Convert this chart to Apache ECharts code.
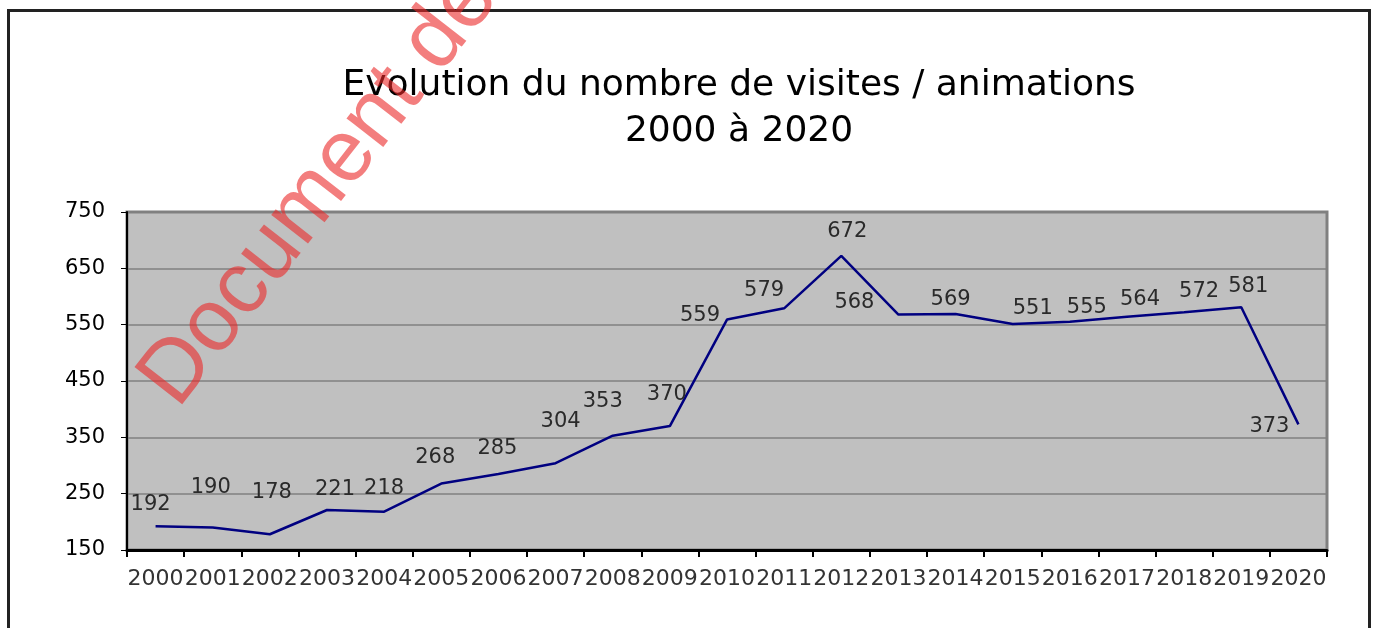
<!DOCTYPE html>
<html>
<head>
<meta charset="utf-8">
<script src="https://cdn.jsdelivr.net/npm/echarts@6/dist/echarts.min.js"></script>
<style>
  html, body { margin: 0; padding: 0; background: #fff; }
  #frame { position: absolute; left: 7px; top: 9px; width: 1358px; height: 700px; border: 3px solid #222; }
  #main { position: absolute; left: 0; top: 0; width: 1375px; height: 628px; }
</style>
</head>
<body>
<div id="frame"></div>
<div id="main"></div>
<script>
// données
var annees = ['2000','2001','2002','2003','2004','2005','2006','2007','2008','2009','2010',
              '2011','2012','2013','2014','2015','2016','2017','2018','2019','2020'];
var visites = [192, 190, 178, 221, 218, 268, 285, 304, 353, 370, 559,
               579, 672, 568, 569, 551, 555, 564, 572, 581, 373];
var titre = 'Evolution du nombre de visites / animations\n2000 à 2020';

var police = 'DejaVu Sans';

// décalage des étiquettes par rapport au point (comme sur l'original)
var decalages = [[-5,-22],[-2,-40],[2,-42],[8,-20],[0,-23],[-6,-26],[-1,-25],[5,-42],[-10,-34],[-3,-32],[-27,-4],
                 [-20,-18],[6,-24],[-44,-12],[-5,-14],[20,-16],[17,-14],[13,-17],[15,-21],[7,-21],[-29,2]];

var myChart = echarts.init(document.getElementById('main'));

option = {
    animation: false,
    title: {
        text: titre,
        left: 734,
        textAlign: 'center',
        top: 58,
        textStyle: { fontFamily: police, fontSize: 36, fontWeight: 'normal', color: '#000', lineHeight: 46 }
    },
    grid: { left: 127, right: 48, top: 212, bottom: 78, show: true, backgroundColor: '#c0c0c0', borderColor: '#808080', borderWidth: 3 },
    xAxis: {
        type: 'category',
        data: annees,
        axisLine: { lineStyle: { color: '#000', width: 3 } },
        axisTick: { show: true, length: 7, lineStyle: { color: '#000', width: 2 } },
        axisLabel: { interval: 0, color: '#333', fontFamily: police, fontSize: 22, margin: 18 }
    },
    yAxis: {
        type: 'value',
        min: 150,
        max: 750,
        interval: 100,
        axisLine: { show: true, lineStyle: { color: '#000', width: 2 } },
        axisTick: { show: true, length: 6, lineStyle: { color: '#000' } },
        splitLine: { lineStyle: { color: '#808080', width: 1.5 } },
        axisLabel: { color: '#000', fontFamily: police, fontSize: 21, margin: 22 }
    },
    graphic: [{
        type: 'text',
        x: 124, y: 368,
        rotation: 52 * Math.PI / 180,
        z: 100,
        style: { text: 'Document de travail', font: '88px "Liberation Sans"', fill: 'rgba(235,40,40,0.6)' }
    }],
    series: [{
        type: 'line',
        data: visites.map(function (v, i) {
            return { value: v, label: { offset: decalages[i] } };
        }),
        symbol: 'circle',
        symbolSize: 0,
        lineStyle: { color: '#000080', width: 2.5 },
        label: { show: true, position: 'inside', color: '#2a2a2a', fontFamily: police, fontSize: 21 }
    }]
};

myChart.setOption(option);
</script>
</body>
</html>
